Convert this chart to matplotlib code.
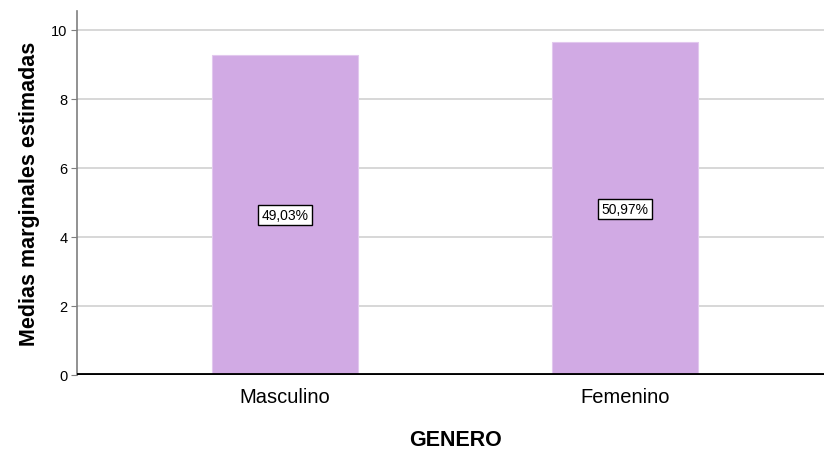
import matplotlib
matplotlib.use("Agg")
import matplotlib.pyplot as plt

categories = ["Masculino", "Femenino"]
values = [9.27, 9.64]
labels = ["49,03%", "50,97%"]
yticks = [0, 2, 4, 6, 8, 10]

base = "Liberation Sans"

fig = plt.figure(figsize=(8.24, 4.52), dpi=100)
ax = fig.add_axes([77/824, 76/452, 756/824, 364/452])

x = list(range(len(categories)))
ax.bar(x, values, width=0.43, color="#D1AAE4", edgecolor="#E2C8EE", linewidth=0.8, zorder=3)
for xi, v, lab in zip(x, values, labels):
    ax.text(xi, v / 2, lab, ha="center", va="center", fontsize=10, family=base,
            bbox=dict(boxstyle="square,pad=0.22", fc="white", ec="black", lw=1), zorder=5)

ax.set_xlim(-0.612, 1.612)
ax.set_ylim(0, 10.55)
ax.set_yticks(yticks)
ax.set_yticklabels([str(t) for t in yticks], fontsize=10.5, family=base)
ax.set_xticks(x)
ax.set_xticklabels(categories, fontsize=14.5, family=base)
ax.yaxis.grid(True, color="#D4D4D4", lw=1.3, zorder=0)
ax.set_axisbelow(True)
for s in ["top", "right", "bottom"]:
    ax.spines[s].set_visible(False)
ax.spines["left"].set_color("#7F7F7F")
ax.spines["left"].set_linewidth(1.2)
ax.axhline(0, color="black", lw=3.5, zorder=4)
ax.tick_params(axis="y", length=4, color="#7F7F7F", pad=3)
ax.tick_params(axis="x", length=0, pad=9)

ax.set_ylabel("Medias marginales estimadas", fontsize=15.5, fontweight="bold", family=base, labelpad=8)
ax.set_xlabel("GENERO", fontsize=15.5, fontweight="bold", family=base, labelpad=16)

fig.savefig("out.png", dpi=100)
